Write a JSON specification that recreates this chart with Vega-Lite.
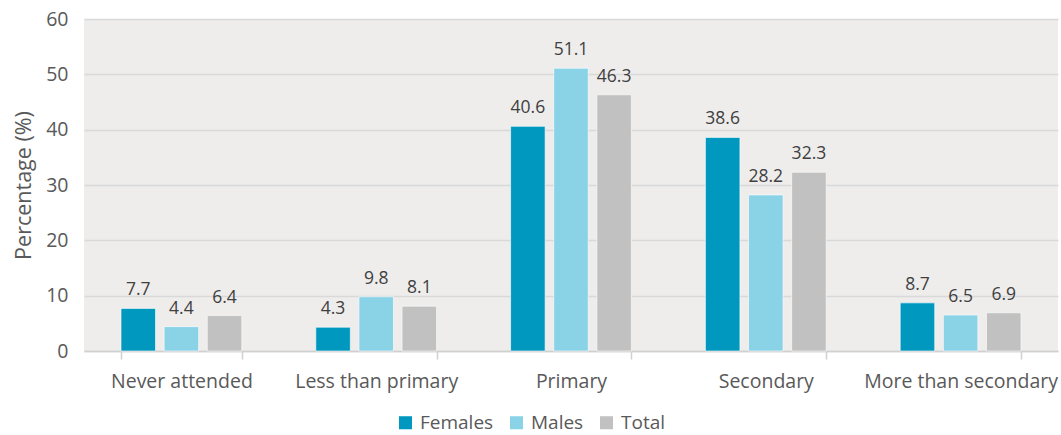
{
  "$schema": "https://vega.github.io/schema/vega-lite/v6.json",
  "width": 974,
  "height": 332,
  "autosize": {"type": "none"},
  "padding": {"left": 84, "top": 19, "right": 3, "bottom": 84},
  "background": "#ffffff",
  "config": {
    "font": "Open Sans",
    "view": {"fill": "#eeedec", "stroke": null}
  },
  "data": {
    "values": [
      {"level": "Never attended", "group": "Females", "value": 7.7},
      {"level": "Never attended", "group": "Males", "value": 4.4},
      {"level": "Never attended", "group": "Total", "value": 6.4},
      {"level": "Less than primary", "group": "Females", "value": 4.3},
      {"level": "Less than primary", "group": "Males", "value": 9.8},
      {"level": "Less than primary", "group": "Total", "value": 8.1},
      {"level": "Primary", "group": "Females", "value": 40.6},
      {"level": "Primary", "group": "Males", "value": 51.1},
      {"level": "Primary", "group": "Total", "value": 46.3},
      {"level": "Secondary", "group": "Females", "value": 38.6},
      {"level": "Secondary", "group": "Males", "value": 28.2},
      {"level": "Secondary", "group": "Total", "value": 32.3},
      {"level": "More than secondary", "group": "Females", "value": 8.7},
      {"level": "More than secondary", "group": "Males", "value": 6.5},
      {"level": "More than secondary", "group": "Total", "value": 6.9}
    ]
  },
  "encoding": {
    "x": {
      "field": "level",
      "type": "nominal",
      "sort": null,
      "scale": {"paddingInner": 0.38, "paddingOuter": 0.19},
      "axis": {
        "title": null,
        "labelAngle": 0,
        "labelFontSize": 19.5,
        "labelLimit": 0,
        "labelColor": "#595959",
        "labelPadding": 13,
        "domainColor": "#d0d0d0",
        "domainWidth": 1.5,
        "tickColor": "#d0d0d0",
        "tickWidth": 1.5,
        "tickSize": 8,
        "tickBand": "extent",
        "grid": false
      }
    },
    "xOffset": {
      "field": "group",
      "type": "nominal",
      "sort": ["Females", "Males", "Total"],
      "scale": {"paddingInner": 0.2, "paddingOuter": 0}
    },
    "y": {
      "field": "value",
      "type": "quantitative",
      "scale": {"domain": [0, 60], "nice": false},
      "axis": {
        "title": "Percentage (%)",
        "titleFontSize": 21.5,
        "titleFontWeight": "normal",
        "titleColor": "#595959",
        "titlePadding": 10,
        "tickCount": 7,
        "values": [0, 10, 20, 30, 40, 50, 60],
        "labelOverlap": false,
        "labelFontSize": 19.5,
        "labelColor": "#595959",
        "labelPadding": 16,
        "domain": false,
        "ticks": false,
        "gridColor": "#d9d9d9",
        "gridWidth": 1.5
      }
    }
  },
  "layer": [
    {
      "mark": {"type": "bar", "stroke": "#ffffff", "strokeWidth": 1, "strokeOpacity": 0.6},
      "encoding": {
        "color": {
          "field": "group",
          "type": "nominal",
          "sort": ["Females", "Males", "Total"],
          "scale": {"domain": ["Females", "Males", "Total"], "range": ["#0098be", "#8ad3e7", "#c0c1c0"]},
          "legend": {
            "title": null,
            "orient": "none",
            "legendX": 312,
            "legendY": 394,
            "direction": "horizontal",
            "symbolType": "square",
            "symbolSize": 170,
            "symbolStrokeWidth": 0,
            "labelFontSize": 19,
            "labelColor": "#595959",
            "columnPadding": 13,
            "labelOffset": 5
          }
        }
      }
    },
    {
      "mark": {"type": "text", "baseline": "bottom", "dy": -9, "fontSize": 17.5, "color": "#404040"},
      "encoding": {
        "text": {"field": "value", "type": "quantitative", "format": ".1f"}
      }
    }
  ]
}
